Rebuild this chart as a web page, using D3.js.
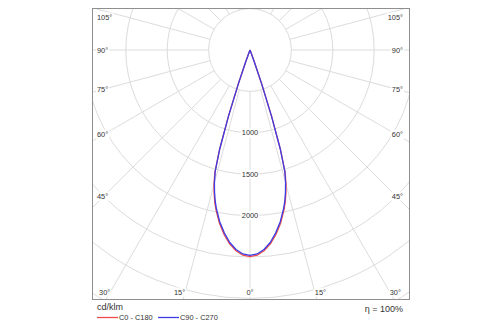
<!DOCTYPE html>
<html><head><meta charset="utf-8">
<script src="https://cdn.jsdelivr.net/npm/d3@7"></script>
<style>body{margin:0;background:#fff}svg{display:block}text{font-family:"Liberation Sans",Arial,sans-serif;fill:#333}</style>
</head><body><svg id="c" width="500" height="325"></svg>
<script>
// ---- data ----
const gammaAngles = [0, 2, 4, 6, 8, 10, 12, 13, 14, 15, 16, 17, 18, 19, 20, 21, 22];
const c0c180  = [2495, 2480, 2430, 2355, 2250, 2125, 1975, 1890, 1790, 1680, 1540, 1260, 850, 440, 160, 30, 0];
const c90c270 = [2480, 2465, 2415, 2338, 2230, 2105, 1955, 1870, 1770, 1660, 1525, 1250, 840, 430, 150, 25, 0];
const gridValues = [500, 1000, 1500, 2000, 2500, 3000, 3500, 4000];
const gridLabels = [1000, 1500, 2000];
const angleTicks = [0, 15, 30, 45, 60, 75, 90, 105, 120, 135, 150, 165, 180];
const angleLabelTicks = [0, 15, 30, 45, 60, 75, 90, 105];
const seriesNames = ["C0 - C180", "C90 - C270"];
const seriesColors = ["#ee4b4b", "#3c3ce6"];
const unitLabel = "cd/klm";
const efficiencyLabel = "η = 100%";

// ---- layout ----
const svg = d3.select("#c");
const frame = {x: 92, y: 8, w: 317, h: 291};
const cx = 250, cy = 50;
const r = d3.scaleLinear().domain([0, 500]).range([0, 41.4]);
const rad = d => d * Math.PI / 180;
const pt = (g, rr, side) => [cx + side * rr * Math.sin(rad(g)), cy + rr * Math.cos(rad(g))];

svg.append("defs").append("clipPath").attr("id", "clip")
  .append("rect").attr("x", frame.x).attr("y", frame.y).attr("width", frame.w).attr("height", frame.h);

const grid = svg.append("g").attr("clip-path", "url(#clip)");
grid.selectAll("circle").data(gridValues).join("circle")
  .attr("cx", cx).attr("cy", cy).attr("r", d => r(d))
  .attr("fill", "none").attr("stroke", "#dcdcdc").attr("stroke-width", 1);

const spokes = [];
angleTicks.forEach(t => {
  spokes.push({g: t, s: 1});
  if (t !== 0 && t !== 180) spokes.push({g: t, s: -1});
});
grid.selectAll("line").data(spokes).join("line")
  .attr("x1", d => pt(d.g, r(500), d.s)[0]).attr("y1", d => pt(d.g, r(500), d.s)[1])
  .attr("x2", d => pt(d.g, r(6000), d.s)[0]).attr("y2", d => pt(d.g, r(6000), d.s)[1])
  .attr("stroke", "#dcdcdc").attr("stroke-width", 1);

// ---- curves ----
function buildPoints(vals) {
  const pts = [];
  for (let i = gammaAngles.length - 1; i >= 0; i--) pts.push({a: Math.PI - rad(gammaAngles[i]), v: vals[i]});
  for (let i = 1; i < gammaAngles.length; i++) pts.push({a: Math.PI + rad(gammaAngles[i]), v: vals[i]});
  return pts;
}
const lr = d3.lineRadial().angle(d => d.a).radius(d => r(d.v));
const curves = svg.append("g").attr("transform", `translate(${cx},${cy})`).attr("clip-path", null);
[c0c180, c90c270].forEach((vals, i) => {
  curves.append("path").attr("d", lr(buildPoints(vals)))
    .attr("fill", "none").attr("stroke", seriesColors[i]).attr("stroke-width", 1.3)
    .attr("stroke-linejoin", "round");
});

// ---- labels with white background ----
function bgText(x, y, txt, anchor, size) {
  const g = svg.append("g");
  const t = g.append("text").attr("x", x).attr("y", y).attr("dy", "0.35em")
    .attr("text-anchor", anchor).attr("font-size", size).text(txt);
  const b = t.node().getBBox();
  g.insert("rect", "text").attr("x", b.x - 1).attr("y", b.y).attr("width", b.width + 2).attr("height", b.height).attr("fill", "#fff");
}
gridLabels.forEach(v => bgText(cx, cy + r(v), String(v), "middle", 7.4));

const leftX = frame.x + 5, rightX = frame.x + frame.w - 6, insetX = 12, bottomY = 292, topY = 17;
angleLabelTicks.forEach(t => {
  [-1, 1].forEach(s => {
    if (t === 0 && s === -1) return;
    const sg = Math.sin(rad(t)), cg = Math.cos(rad(t));
    const txt = t + "°";
    if (t === 0) { bgText(cx, bottomY, txt, "middle", 7.4); return; }
    // y of spoke at label center x
    const dx = 250 - (frame.x + insetX);
    const yAt = cy + dx * cg / sg;
    if (yAt <= bottomY) {
      const y = Math.max(topY, yAt);
      if (s < 0) bgText(leftX, y, txt, "start", 7.4);
      else bgText(rightX, y, txt, "end", 7.4);
    } else {
      const xoff = (bottomY - cy) * sg / cg;
      if (s < 0) bgText(Math.max(cx - xoff, leftX + 11), bottomY, txt, "end", 7.4);
      else bgText(Math.min(cx + xoff, rightX - 11), bottomY, txt, "start", 7.4);
    }
  });
});

// ---- frame ----
svg.append("rect").attr("x", frame.x + 0.5).attr("y", frame.y + 0.5).attr("width", frame.w).attr("height", frame.h)
  .attr("fill", "none").attr("stroke", "#8f8f8f").attr("stroke-width", 1);

// ---- legend ----
svg.append("text").attr("x", 97).attr("y", 309.5).attr("font-size", 9).text(unitLabel);
svg.append("text").attr("x", 403).attr("y", 312).attr("text-anchor", "end").attr("font-size", 9).text(efficiencyLabel);
const legX = [97, 158];
seriesNames.forEach((n, i) => {
  svg.append("line").attr("x1", legX[i]).attr("x2", legX[i] + 21).attr("y1", 317.5).attr("y2", 317.5)
    .attr("stroke", seriesColors[i]).attr("stroke-width", 1.3);
  svg.append("text").attr("x", legX[i] + 22).attr("y", 320).attr("font-size", 7.4).text(n);
});
</script></body></html>
